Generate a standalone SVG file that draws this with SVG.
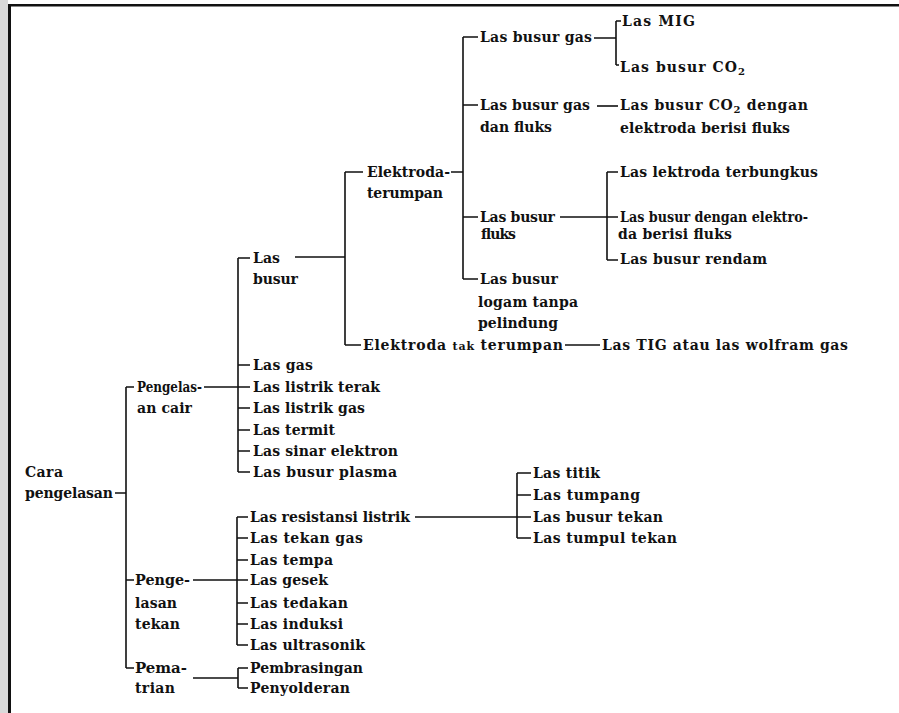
<svg xmlns="http://www.w3.org/2000/svg" width="899" height="713" viewBox="0 0 899 713">
<style>
text{font-family:"DejaVu Serif","Liberation Serif",serif;font-size:14px;font-weight:bold;fill:#111}
.sm{font-size:11px}
.sub{font-size:10px}
#connectors path{fill:none;stroke:#111;stroke-width:1.6}
</style>
<rect x="0" y="0" width="899" height="713" fill="#fff"/>
<rect x="0" y="0" width="8" height="713" fill="#d9d9d9"/>
<g id="frame" stroke="#111" fill="none">
<line x1="9.5" y1="4" x2="9.5" y2="713" stroke-width="3"/>
<line x1="8" y1="5.3" x2="899" y2="5.3" stroke-width="2.5"/>
</g>
<g id="connectors">
<path d="M115 493H126M126 387V668M126 387H134M126 580H134M126 668H134"/>
<path d="M204 387H238M238 258V472M238 258H250M238 365H250M238 387H250M238 408H250M238 430H250M238 451H250M238 472H250"/>
<path d="M295 257H345M345 172V345M345 172H363M345 345H361"/>
<path d="M451 172H463M463 37V279M463 37H478M463 105H478M463 217H478M463 279H478"/>
<path d="M594 38H616M616 21V65M616 21H621M616 65H619"/>
<path d="M597 106H618"/>
<path d="M560 217H607M607 172V260M607 172H618M607 217H618M607 260H618"/>
<path d="M565 345H600"/>
<path d="M193 580H237M237 517V645M237 517H248M237 538H248M237 560H248M237 580H248M237 603H248M237 624H248M237 645H248"/>
<path d="M415 517H517M517 473V538M517 473H531M517 495H531M517 517H531M517 538H531"/>
<path d="M193 678H238M238 668V688M238 668H248M238 688H248"/>
</g>
<g id="n-root"><text x="25" y="477" textLength="38">Cara</text><text x="25" y="498" textLength="88">pengelasan</text></g>
<g id="n-cair"><text x="137" y="392" textLength="65" lengthAdjust="spacingAndGlyphs">Pengelas-</text><text x="137" y="413" textLength="55">an cair</text></g>
<g id="n-tekan"><text x="135" y="585" textLength="55" lengthAdjust="spacingAndGlyphs">Penge-</text><text x="135" y="608" textLength="42">lasan</text><text x="135" y="629" textLength="45">tekan</text></g>
<g id="n-patri"><text x="135" y="673" textLength="52" lengthAdjust="spacingAndGlyphs">Pema-</text><text x="135" y="693" textLength="40">trian</text></g>
<g id="n-busur"><text x="253" y="263" textLength="27">Las</text><text x="253" y="284" textLength="45">busur</text></g>
<g id="n-gas"><text x="253" y="370" textLength="60">Las gas</text></g>
<g id="n-terak"><text x="253" y="392" textLength="127">Las listrik terak</text></g>
<g id="n-listrikgas"><text x="253" y="413" textLength="112">Las listrik gas</text></g>
<g id="n-termit"><text x="253" y="435" textLength="82">Las termit</text></g>
<g id="n-sinar"><text x="253" y="456" textLength="145">Las sinar elektron</text></g>
<g id="n-plasma"><text x="253" y="477" textLength="144">Las busur plasma</text></g>
<g id="n-terumpan"><text x="367" y="177" textLength="83">Elektroda-</text><text x="367" y="198" textLength="76">terumpan</text></g>
<g id="n-takterumpan"><text x="363" y="350" textLength="200">Elektroda <tspan class="sm">tak</tspan> terumpan</text></g>
<g id="n-busurgas"><text x="480" y="42" textLength="112">Las busur gas</text></g>
<g id="n-gasfluks"><text x="480" y="110" textLength="110">Las busur gas</text><text x="480" y="132" textLength="72">dan fluks</text></g>
<g id="n-fluks"><text x="480" y="222" textLength="75">Las busur</text><text x="480" y="239" textLength="35">fluks</text></g>
<g id="n-logam"><text x="480" y="284" textLength="78">Las busur</text><text x="478" y="307" textLength="100">logam tanpa</text><text x="478" y="328" textLength="80">pelindung</text></g>
<g id="n-mig"><text x="622" y="26" textLength="73">Las MIG</text></g>
<g id="n-co2"><text x="620" y="72" textLength="125">Las busur CO<tspan class="sub" dy="3">2</tspan></text></g>
<g id="n-co2fluks"><text x="620" y="110" textLength="188">Las busur CO<tspan class="sub" dy="3">2</tspan><tspan dy="-3"> dengan</tspan></text><text x="620" y="133" textLength="170">elektroda berisi fluks</text></g>
<g id="n-terbungkus"><text x="620" y="177" textLength="198">Las lektroda terbungkus</text></g>
<g id="n-elektrofluks"><text x="620" y="222" textLength="188" lengthAdjust="spacingAndGlyphs">Las busur dengan elektro-</text><text x="618" y="239" textLength="114">da berisi fluks</text></g>
<g id="n-rendam"><text x="620" y="264" textLength="147">Las busur rendam</text></g>
<g id="n-tig"><text x="602" y="350" textLength="246">Las TIG atau las wolfram gas</text></g>
<g id="n-resistansi"><text x="250" y="522" textLength="160">Las resistansi listrik</text></g>
<g id="n-tekangas"><text x="250" y="543" textLength="113">Las tekan gas</text></g>
<g id="n-tempa"><text x="250" y="565" textLength="83">Las tempa</text></g>
<g id="n-gesek"><text x="250" y="585" textLength="78">Las gesek</text></g>
<g id="n-tedakan"><text x="250" y="608" textLength="98">Las tedakan</text></g>
<g id="n-induksi"><text x="250" y="629" textLength="93">Las induksi</text></g>
<g id="n-ultrasonik"><text x="250" y="650" textLength="115">Las ultrasonik</text></g>
<g id="n-brasing"><text x="250" y="673" textLength="113">Pembrasingan</text></g>
<g id="n-solder"><text x="250" y="693" textLength="100">Penyolderan</text></g>
<g id="n-titik"><text x="533" y="478" textLength="67">Las titik</text></g>
<g id="n-tumpang"><text x="533" y="500" textLength="107">Las tumpang</text></g>
<g id="n-busurtekan"><text x="533" y="522" textLength="130">Las busur tekan</text></g>
<g id="n-tumpul"><text x="533" y="543" textLength="144">Las tumpul tekan</text></g>
</svg>
